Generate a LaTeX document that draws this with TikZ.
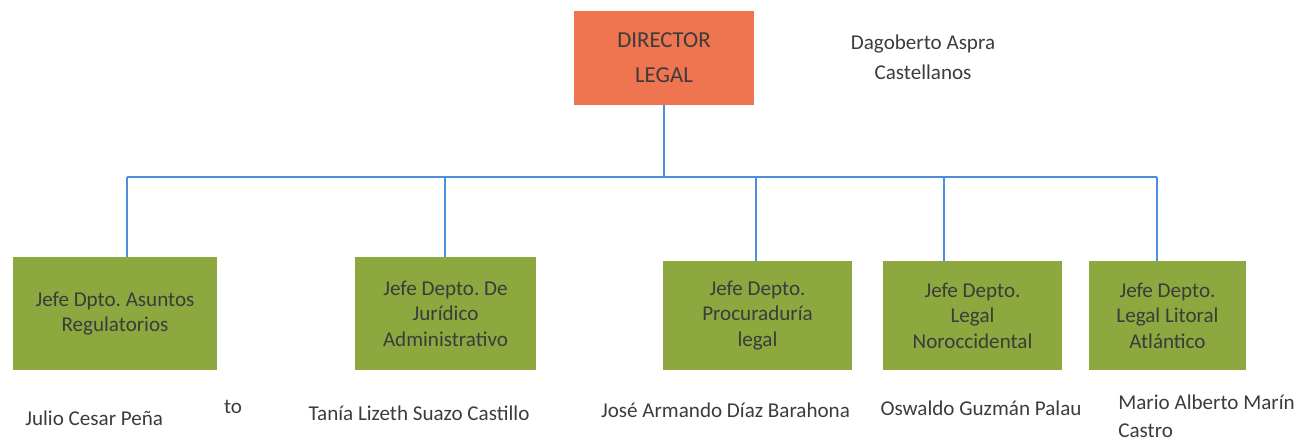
\documentclass[tikz,border=0pt]{standalone}
\usepackage{fontspec}
\setmainfont{Carlito}
\usepackage{tikz}
\usetikzlibrary{positioning, calc}
\definecolor{boxdirector}{HTML}{EE7550}
\definecolor{boxjefe}{HTML}{8CA83E}
\definecolor{linkblue}{HTML}{4F8EDC}
\definecolor{textgray}{HTML}{3C3C3C}
\frenchspacing

\begin{document}
\begin{tikzpicture}[
    unit/.style={fill=#1, inner sep=2pt, align=center, text=textgray, font=\fontsize{12}{14.5}\selectfont},
    person/.style={text=textgray, inner sep=0pt, font=\fontsize{12}{14.5}\selectfont},
    link/.style={draw=linkblue, line width=1.1pt},
]
    \useasboundingbox (0,0) rectangle (25.94,-8.86);

    % top of the chart
    \node[unit=boxdirector, minimum width=3.6cm, minimum height=1.88cm, font=\fontsize{13}{20}\selectfont] (dir) at (13.28,-1.16) {DIRECTOR\\LEGAL};
    \node[person, align=center, font=\fontsize{12}{17}\selectfont] (dirname) at (18.46,-1.14) {Dagoberto Aspra\\Castellanos};

    % departments
    \node[unit=boxjefe, minimum width=4.08cm, minimum height=2.26cm] (b1) at (2.30,-6.27) {Jefe Dpto. Asuntos\\Regulatorios};
    \node[unit=boxjefe, minimum width=3.62cm, minimum height=2.26cm] (b2) at (8.91,-6.27) {Jefe Depto. De\\Jurídico\\Administrativo};
    \node[unit=boxjefe, minimum width=3.78cm, minimum height=2.18cm] (b3) at (15.15,-6.31) {Jefe Depto.\\Procuraduría\\legal};
    \node[unit=boxjefe, minimum width=3.58cm, minimum height=2.18cm] (b4) at (19.45,-6.31) {Jefe Depto.\\Legal\\Noroccidental};
    \node[unit=boxjefe, minimum width=3.14cm, minimum height=2.18cm] (b5) at (23.35,-6.31) {Jefe Depto.\\Legal Litoral\\Atlántico};

    % names under the boxes
    \node[person, anchor=west] (n1) at (0.50,-8.36) {Julio Cesar Peña};
    \node[person] (n1b) at (4.66,-8.14) {to};
    \node[person] (n2) at (8.38,-8.26) {Tanía Lizeth Suazo Castillo};
    \node[person] (n3) at (14.51,-8.20) {José Armando Díaz Barahona};
    \node[person] (n4) at (19.62,-8.16) {Oswaldo Guzmán Palau};
    \node[person, anchor=west, align=left, font=\fontsize{12}{16}\selectfont] (n5) at (22.36,-8.33) {Mario Alberto Marín\\Castro};

    % connectors
    \coordinate (j1) at (2.54,-3.54);
    \coordinate (j2) at (8.90,-3.54);
    \coordinate (j3) at (15.12,-3.54);
    \coordinate (j4) at (18.88,-3.54);
    \coordinate (j5) at (23.14,-3.54);
    \draw[link] (dir.south) -- (dir.south |- j1);
    \draw[link] (j1) -- (j5);
    \draw[link] (j1) -- (j1 |- b1.north);
    \draw[link] (j2) -- (j2 |- b2.north);
    \draw[link] (j3) -- (j3 |- b3.north);
    \draw[link] (j4) -- (j4 |- b4.north);
    \draw[link] (j5) -- (j5 |- b5.north);
\end{tikzpicture}
\end{document}
